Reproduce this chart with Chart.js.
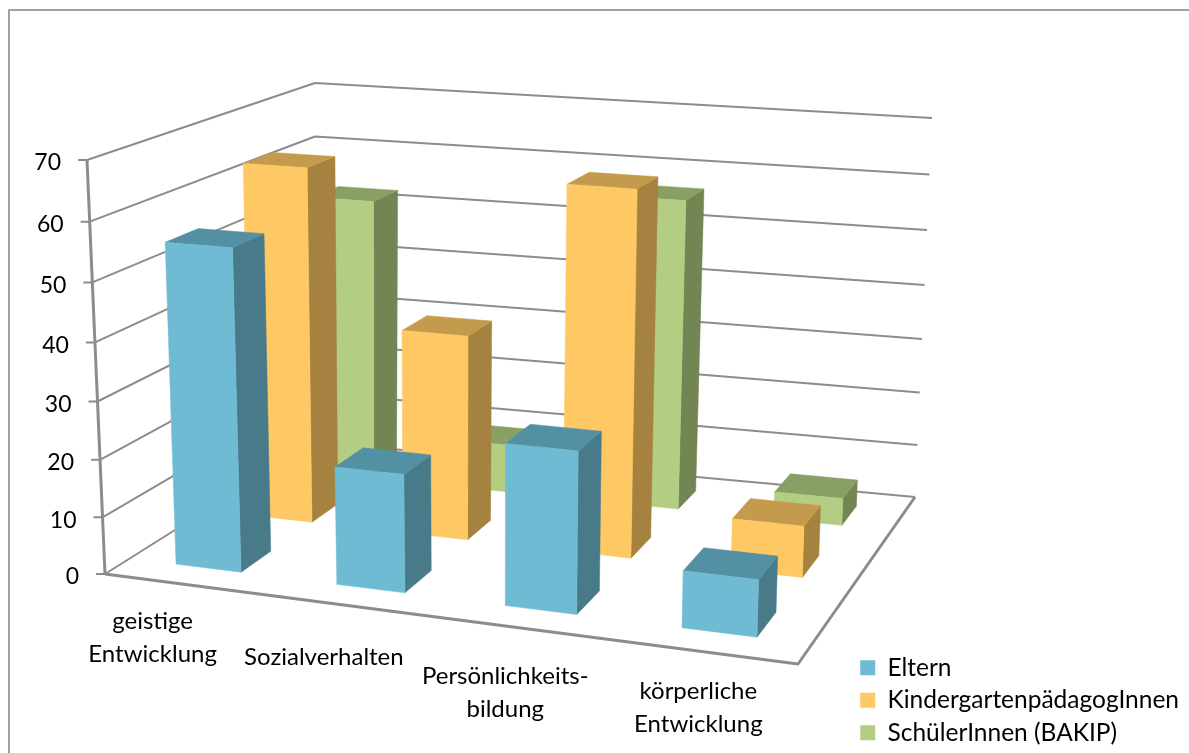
<!DOCTYPE html>
<html>
<head>
<meta charset="utf-8">
<script src="https://cdn.jsdelivr.net/npm/chart.js@4/dist/chart.umd.js"></script>
<style>
	html, body { margin: 0; background: #fff; }
	canvas { display: block; }
</style>
</head>
<body>
<canvas id="chart" width="1189" height="753"></canvas>
<script>
const categories = [['geistige', 'Entwicklung'], ['Sozialverhalten'], ['Persönlichkeits-', 'bildung'], ['körperliche', 'Entwicklung']]
const eltern = [55.5, 20.3, 27.3, 9.5]
const kindergarten = [63.5, 36.5, 63.7, 9]
const schueler = [52.5, 9, 56.5, 5]

const frontColors = ['#6fbbd3', '#fec964', '#b3ce82']
const sideColors = ['#497a8a', '#a5823f', '#728553']
const topColors = ['#5490a3', '#c49b4c', '#8a9f63']
const gridColor = '#8c8c8c'
const font = 'Lato'

// corners of the 3d box on the page: [front left, front right, back left, back right]
const floorCorners = [[105, 574], [798, 664], [315, 442], [915, 497]]
const roofCorners = [[87, 160], [812, 210], [315, 83], [932, 118]]
const depthHalf = 0.067
const labelNudgeX = [0, 3, 8, 16]
const labelNudgeY = [0, -3, 8, -1]

const warp = (a, k) => a / (a + k * (1 - a))
const mix = (a, b, t) => [a[0] + (b[0] - a[0]) * t, a[1] + (b[1] - a[1]) * t]

function project(u, v, w) {
	const pu = warp(u, 1.1), pv = warp(v, 0.818), pw = warp(w, 1.05)
	const plane = c => mix(mix(c[0], c[1], pu), mix(c[2], c[3], pu), pv)
	return mix(plane(floorCorners), plane(roofCorners), pw)
}

function poly(ctx, pts, fill) {
	ctx.beginPath()
	pts.forEach((p, i) => i ? ctx.lineTo(p[0], p[1]) : ctx.moveTo(p[0], p[1]))
	ctx.closePath()
	ctx.fillStyle = fill
	ctx.fill()
	ctx.strokeStyle = fill
	ctx.lineWidth = 0.5
	ctx.stroke()
}

function line(ctx, pts, width) {
	ctx.beginPath()
	pts.forEach((p, i) => i ? ctx.lineTo(p[0], p[1]) : ctx.moveTo(p[0], p[1]))
	ctx.strokeStyle = gridColor
	ctx.lineWidth = width
	ctx.stroke()
}

const box3d = {
	id: 'box3d',
	beforeDatasetsDraw(chart) {
		const { ctx, chartArea: area, scales } = chart
		const yScale = scales.y
		const toU = px => (px - area.left) / area.width
		const toW = px => (area.bottom - px) / area.height

		ctx.save()
		ctx.lineJoin = 'round'

		// page frame
		ctx.strokeStyle = '#a0a0a0'
		ctx.lineWidth = 2
		ctx.beginPath()
		ctx.moveTo(9, 753)
		ctx.lineTo(9, 10)
		ctx.lineTo(1189, 10)
		ctx.stroke()

		// walls, floor and value labels
		ctx.font = '23px ' + font
		ctx.textAlign = 'right'
		ctx.textBaseline = 'middle'
		yScale.ticks.forEach(t => {
			const w = toW(yScale.getPixelForValue(t.value))
			const a = project(0, 0, w)
			line(ctx, [[a[0] - 9, a[1]], a, project(0, 1, w), project(1, 1, w)], 2)
			ctx.fillStyle = '#000'
			ctx.fillText(t.label, a[0] - 26, a[1] + 3)
		})
		line(ctx, [project(0, 0, 1), project(0, 0, 0)], 3)
		line(ctx, [project(0, 0, 0), project(1, 0, 0), project(1, 1, 0)], 3)

		// back row first, left to right, so the nearer boxes overlap
		for (let ds = chart.data.datasets.length - 1; ds >= 0; ds--) {
			const v0 = (2 * ds + 1) / 6 - depthHalf, v1 = (2 * ds + 1) / 6 + depthHalf
			chart.getDatasetMeta(ds).data.forEach(bar => {
				const u0 = toU(bar.x - bar.width / 2), u1 = toU(bar.x + bar.width / 2)
				const h = toW(bar.y)
				poly(ctx, [project(u1, v0, 0), project(u1, v1, 0), project(u1, v1, h), project(u1, v0, h)], sideColors[ds])
				poly(ctx, [project(u0, v0, h), project(u1, v0, h), project(u1, v1, h), project(u0, v1, h)], topColors[ds])
				poly(ctx, [project(u0, v0, 0), project(u1, v0, 0), project(u1, v0, h), project(u0, v0, h)], frontColors[ds])
			})
		}

		// category labels under the front edge of the floor
		ctx.font = '24px ' + font
		ctx.textAlign = 'center'
		ctx.fillStyle = '#000'
		chart.getDatasetMeta(0).data.forEach((bar, i) => {
			const lines = categories[i]
			const p = project(toU(bar.x), -0.12, 0)
			lines.forEach((text, n) => {
				ctx.fillText(text, p[0] - 2 + labelNudgeX[i], p[1] + 33 + labelNudgeY[i] + (n - (lines.length - 1) / 2) * 33)
			})
		})

		ctx.restore()
		return false
	}
}

new Chart(document.getElementById('chart'), {
	type: 'bar',
	data: {
		labels: categories,
		datasets: [
			{ label: 'Eltern', data: eltern, backgroundColor: frontColors[0] },
			{ label: 'KindergartenpädagogInnen', data: kindergarten, backgroundColor: frontColors[1] },
			{ label: 'SchülerInnen (BAKIP)', data: schueler, backgroundColor: frontColors[2] }
		]
	},
	plugins: [box3d],
	options: {
		responsive: false,
		animation: false,
		layout: { padding: { top: 161, right: 0, bottom: 0 } },
		datasets: { bar: { grouped: false, barPercentage: 0.41, categoryPercentage: 1 } },
		scales: {
			x: {
				grid: { display: false },
				border: { display: false },
				ticks: { display: false },
				afterFit(scale) { scale.height = 178 }
			},
			y: {
				min: 0,
				max: 70,
				grid: { display: false },
				border: { display: false },
				ticks: { display: false, stepSize: 10 },
				afterFit(scale) { scale.width = 70 }
			}
		},
		plugins: {
			tooltip: { enabled: false },
			legend: {
				position: 'right',
				align: 'end',
				maxWidth: 345,
				labels: {
					color: '#000',
					boxWidth: 15,
					boxHeight: 15,
					padding: 8,
					font: { family: font, size: 24.5 }
				}
			}
		}
	}
})
</script>
</body>
</html>
